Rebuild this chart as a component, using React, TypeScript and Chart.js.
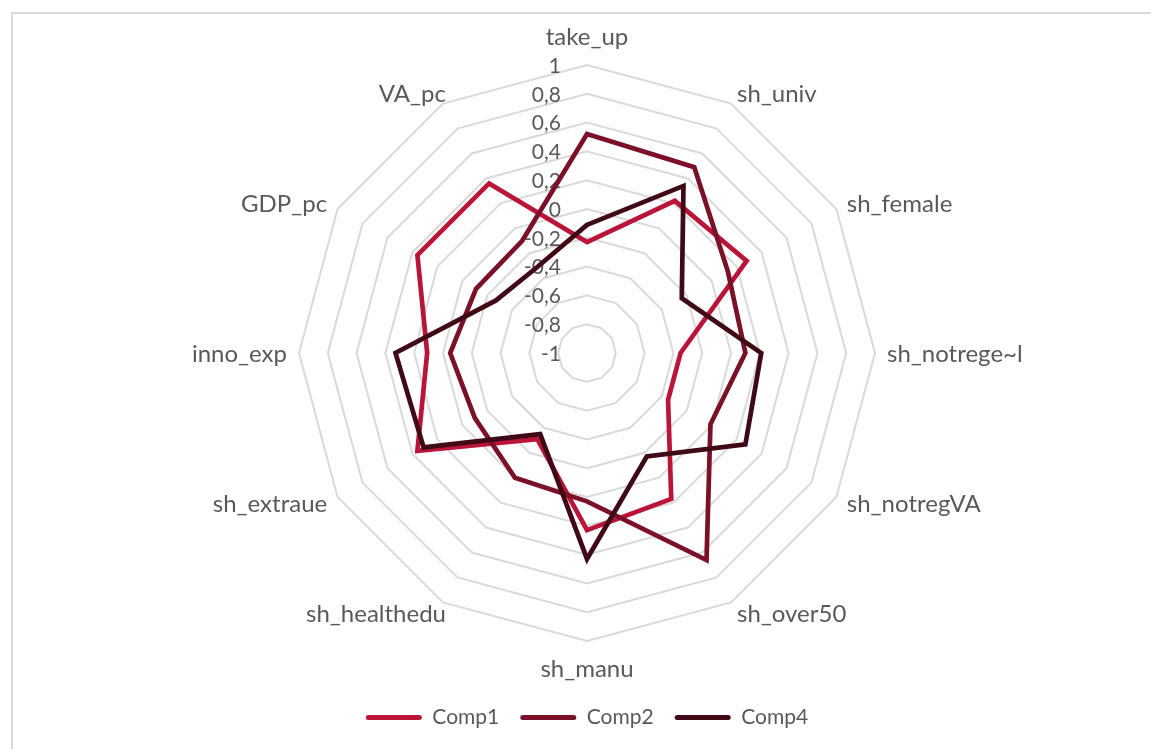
import React, { useEffect, useRef } from "react";
import { Chart, registerables } from "chart.js";

Chart.register(...registerables);

// ---- data ----
const categories = [
  "take_up",
  "sh_univ",
  "sh_female",
  "sh_notrege~l",
  "sh_notregVA",
  "sh_over50",
  "sh_manu",
  "sh_healthedu",
  "sh_extraue",
  "inno_exp",
  "GDP_pc",
  "VA_pc",
];
const seriesNames = ["Comp1", "Comp2", "Comp4"];
const comp1 = [-0.23, 0.22, 0.28, -0.35, -0.35, 0.17, 0.23, -0.31, 0.36, 0.11, 0.36, 0.36];
const comp2 = [0.52, 0.49, 0.13, 0.1, -0.01, 0.66, 0.03, 0.0, -0.1, -0.05, -0.11, -0.1];
const comp4 = [-0.11, 0.34, -0.24, 0.21, 0.27, -0.17, 0.43, -0.35, 0.31, 0.33, -0.27, -0.31];
const tickValues = [-1, -0.8, -0.6, -0.4, -0.2, 0, 0.2, 0.4, 0.6, 0.8, 1];
const tickLabels = ["-1", "-0,8", "-0,6", "-0,4", "-0,2", "0", "0,2", "0,4", "0,6", "0,8", "1"];

// ---- styles ----
const seriesColors = ["#BA1538", "#7B1128", "#3F0A15"];
const TEXT_COLOR = "#595959";
const FONT_FAMILY = "Lato, 'Noto Sans', sans-serif";
const FONT_SIZE = 21;
const CAT_FONT_SIZE = 24;

const textPlugin = {
  id: "excelText",
  beforeDatasetsDraw(chart: any) {
    const scale = chart.scales.r;
    const ctx = chart.ctx;
    ctx.save();
    ctx.font = `${FONT_SIZE}px ${FONT_FAMILY}`;
    ctx.fillStyle = TEXT_COLOR;
    ctx.textBaseline = "middle";
    ctx.textAlign = "right";
    tickValues.forEach((v, i) => {
      const d = scale.getDistanceFromCenterForValue(v);
      ctx.fillText(tickLabels[i], scale.xCenter - 26, scale.yCenter - d + 1);
    });
    ctx.restore();
  },
  afterDraw(chart: any) {
    const scale = chart.scales.r;
    const ctx = chart.ctx;
    ctx.save();
    ctx.font = `${CAT_FONT_SIZE}px ${FONT_FAMILY}`;
    ctx.fillStyle = TEXT_COLOR;
    ctx.textBaseline = "middle";
    categories.forEach((label, i) => {
      const a = scale.getIndexAngle(i);
      const p = scale.getPointPosition(i, scale.drawingArea + 12);
      const s = Math.sin(a);
      const c = Math.cos(a);
      let x = p.x;
      let y = p.y + 1;
      if (Math.abs(s) < 0.01) {
        ctx.textAlign = "center";
        y = p.y - 16 * c;
      } else if (s > 0) {
        ctx.textAlign = "left";
      } else {
        ctx.textAlign = "right";
        if (Math.abs(Math.abs(s) - 0.5) < 0.01) x += 9;
      }
      ctx.fillText(label, x, y);
    });
    ctx.restore();
  },
};

export default function App() {
  const ref = useRef<HTMLCanvasElement | null>(null);

  useEffect(() => {
    if (!ref.current) return;
    const seriesValues = [comp1, comp2, comp4];
    const chart = new Chart(ref.current, {
      type: "radar",
      data: {
        labels: categories,
        datasets: seriesNames.map((name, i) => ({
          label: name,
          data: seriesValues[i],
          borderColor: seriesColors[i],
          backgroundColor: seriesColors[i],
          borderWidth: 4.7,
          borderJoinStyle: "miter" as const,
          pointRadius: 0,
          pointHoverRadius: 0,
          fill: false,
          tension: 0,
          order: seriesNames.length - 1 - i,
        })),
      },
      options: {
        responsive: false,
        maintainAspectRatio: false,
        animation: false,
        devicePixelRatio: 1,
        layout: { padding: { left: 299, right: 276, top: 21, bottom: 11 } },
        scales: {
          r: {
            min: -1,
            max: 1,
            startAngle: 0,
            ticks: { display: false, stepSize: 0.2 },
            grid: { color: "#D9D9D9", lineWidth: 2, circular: false },
            angleLines: { display: false },
            pointLabels: { display: false },
          },
        },
        plugins: {
          tooltip: { enabled: false },
          legend: {
            position: "bottom",
            labels: {
              boxWidth: 56,
              boxHeight: 5,
              padding: 21,
              color: TEXT_COLOR,
              font: { family: FONT_FAMILY, size: FONT_SIZE },
              useBorderRadius: true,
              borderRadius: 2.5,
              sort: (a: any, b: any) => a.datasetIndex - b.datasetIndex,
              generateLabels: (ch: any) => {
                const items = Chart.defaults.plugins.legend.labels.generateLabels(ch);
                return items.map((it: any) => ({
                  ...it,
                  fillStyle: seriesColors[it.datasetIndex],
                  strokeStyle: seriesColors[it.datasetIndex],
                  lineWidth: 0,
                  borderRadius: 2.5,
                }));
              },
            },
          },
        },
      },
      plugins: [textPlugin],
    });
    return () => chart.destroy();
  }, []);

  return (
    <div style={{ position: "absolute", left: 0, top: 0, width: 1151, height: 749, overflow: "hidden", background: "#fff" }}>
      <div
        style={{
          position: "absolute",
          left: 11,
          top: 12,
          width: 1151 - 13,
          height: 749 - 14,
          borderTop: "2px solid #D9D9D9",
          borderLeft: "2px solid #D9D9D9",
        }}
      />
      <canvas ref={ref} width={1151} height={749} style={{ position: "absolute", left: 0, top: 0, width: 1151, height: 749 }} />
    </div>
  );
}
